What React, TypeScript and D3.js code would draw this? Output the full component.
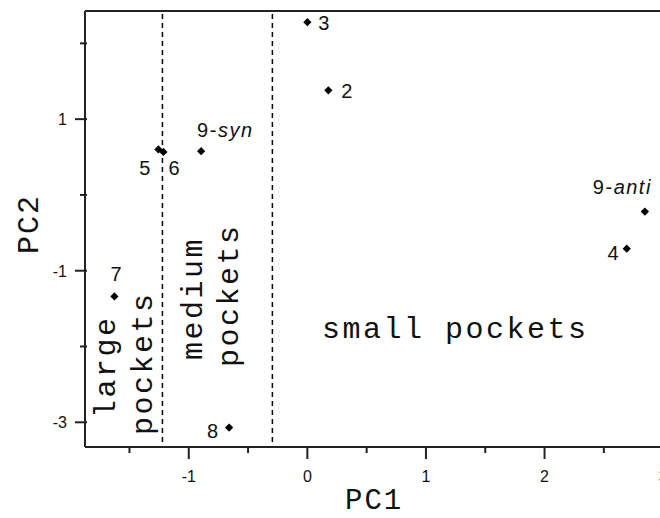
import React from "react";
import * as d3 from "d3";

const pointLabels = ["2", "3", "4", "5", "6", "7", "8", "9-syn", "9-anti"];
const pc1Values = [0.177, 0.0, 2.693, -1.256, -1.214, -1.627, -0.66, -0.896, 2.846];
const pc2Values = [1.38, 2.28, -0.71, 0.6, 0.568, -1.34, -3.07, 0.577, -0.22];

const xMajorTicks = [-1, 0, 1, 2, 3];
const xMinorTicks = [-1.5, -0.5, 0.5, 1.5, 2.5];
const yMajorTicks = [1, -1, -3];
const yMinorTicks = [2, 0, -2];

const boundaries = [-1.222, -0.295];

const W = 660;
const H = 518;

// label placement (pixels relative to marker): [dx, dy, anchor]
const labelPlacement: Record<string, [number, number, string]> = {
  "2": [13, 7.5, "start"],
  "3": [11, 7.5, "start"],
  "4": [-8, 11.5, "end"],
  "5": [-8, 26, "end"],
  "6": [5, 23.5, "start"],
  "7": [-4, -15.5, "start"],
  "8": [-11, 10.5, "end"],
  "9-syn": [-4, -14.5, "start"],
  "9-anti": [7, -18, "end"],
};

export default function App() {
  const left = 85;
  const top = 11;
  const bottom = 447;
  const x = d3.scaleLinear().domain([-1.875, 3.1]).range([left, 675]);
  const y = d3.scaleLinear().domain([-3.326, 2.427]).range([bottom, top]);

  const mono = "'Liberation Mono', 'DejaVu Sans Mono', monospace";
  const sans = "'Liberation Sans', Arial, sans-serif";
  const marker = d3.symbol().type(d3.symbolSquare).size(34)() as string;

  const points = pointLabels.map((l, i) => ({ label: l, px: x(pc1Values[i]), py: y(pc2Values[i]) }));

  const renderLabel = (label: string) => {
    if (label.startsWith("9-")) {
      return (
        <>
          <tspan>9-</tspan>
          <tspan fontStyle="italic">{label.slice(2)}</tspan>
        </>
      );
    }
    return label;
  };

  return (
    <svg
      width={W}
      height={H}
      style={{ position: "absolute", left: 0, top: 0, display: "block", background: "#fff" }}
    >
      <rect x={0} y={0} width={W} height={H} fill="#fff" />
      {/* dashed boundaries */}
      {boundaries.map((b, i) => (
        <line
          key={"b" + i}
          x1={x(b)}
          x2={x(b)}
          y1={top + 3}
          y2={bottom}
          stroke="#000"
          strokeWidth={1.5}
          strokeDasharray="5,4"
        />
      ))}
      {/* frame */}
      <line x1={left} x2={W + 20} y1={top} y2={top} stroke="#222" strokeWidth={2} />
      <line x1={left} x2={W + 20} y1={bottom} y2={bottom} stroke="#222" strokeWidth={2} />
      <line x1={left} x2={left} y1={top} y2={bottom} stroke="#222" strokeWidth={2} />
      {/* x ticks */}
      {xMajorTicks.map((t) => (
        <g key={"xt" + t}>
          <line x1={x(t)} x2={x(t)} y1={bottom} y2={bottom + 12} stroke="#222" strokeWidth={2} />
          <text x={x(t)} y={482} textAnchor="middle" fontFamily={sans} fontSize={16} fill="#111">
            {t}
          </text>
        </g>
      ))}
      {xMinorTicks.map((t) => (
        <line key={"xm" + t} x1={x(t)} x2={x(t)} y1={bottom} y2={bottom + 6} stroke="#222" strokeWidth={2} />
      ))}
      {/* y ticks */}
      {yMajorTicks.map((t) => (
        <g key={"yt" + t}>
          <line x1={left - 10} x2={left + 2} y1={y(t)} y2={y(t)} stroke="#222" strokeWidth={2} />
          <text x={67} y={y(t) + 6} textAnchor="end" fontFamily={sans} fontSize={16} fill="#111">
            {t}
          </text>
        </g>
      ))}
      {yMinorTicks.map((t) => (
        <line key={"ym" + t} x1={left - 5} x2={left + 2} y1={y(t)} y2={y(t)} stroke="#222" strokeWidth={2} />
      ))}
      {/* axis titles */}
      <text x={345} y={509} fontFamily={mono} fontSize={29} letterSpacing={2} fill="#111">
        PC1
      </text>
      <text
        transform={`translate(38,254) rotate(-90)`}
        fontFamily={mono}
        fontSize={30}
        letterSpacing={2}
        fill="#111"
      >
        PC2
      </text>
      {/* region labels */}
      <text x={322} y={338} fontFamily={mono} fontSize={30} letterSpacing={2.5} fill="#111">
        small pockets
      </text>
      <text transform="translate(115,418) rotate(-90)" fontFamily={mono} fontSize={30} letterSpacing={2.5} fill="#111">
        large
      </text>
      <text transform="translate(152,435) rotate(-90)" fontFamily={mono} fontSize={30} letterSpacing={2.5} fill="#111">
        pockets
      </text>
      <text transform="translate(202,360) rotate(-90)" fontFamily={mono} fontSize={30} letterSpacing={2.5} fill="#111">
        medium
      </text>
      <text transform="translate(238,367) rotate(-90)" fontFamily={mono} fontSize={30} letterSpacing={2.5} fill="#111">
        pockets
      </text>
      {/* points */}
      {points.map((p) => {
        const [dx, dy, anchor] = labelPlacement[p.label];
        return (
          <g key={p.label}>
            <path d={marker} transform={`translate(${p.px},${p.py}) rotate(45)`} fill="#000" />
            <text
              x={p.px + dx}
              y={p.py + dy}
              textAnchor={anchor}
              fontFamily={sans}
              fontSize={20}
              letterSpacing={p.label.length > 1 ? 1.5 : 0}
              fill="#111"
            >
              {renderLabel(p.label)}
            </text>
          </g>
        );
      })}
    </svg>
  );
}
